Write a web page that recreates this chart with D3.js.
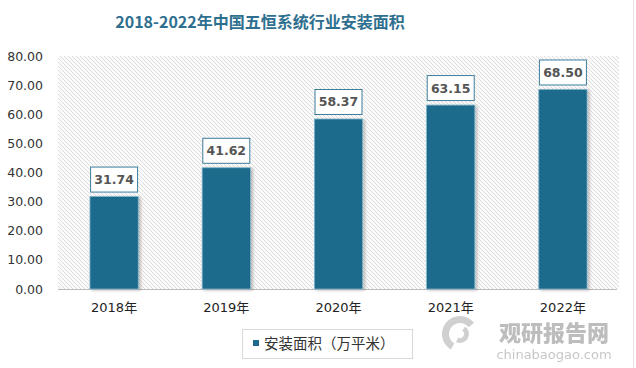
<!DOCTYPE html>
<html><head><meta charset="utf-8">
<script src="https://cdn.jsdelivr.net/npm/d3@7"></script>
<style>body{margin:0;background:#fff}svg{display:block}</style>
</head><body>
<script>
const title = "2018-2022年中国五恒系统行业安装面积";
const categories = ["2018年","2019年","2020年","2021年","2022年"];
const values = [31.74, 41.62, 58.37, 63.15, 68.50];
const yTicks = [0,10,20,30,40,50,60,70,80];
const seriesName = "安装面积（万平米）";

const W = 636, H = 368;
const m = {left:58, right:619, top:56, bottom:289};
const svg = d3.select("body").append("svg").attr("width",W).attr("height",H);
const defs = svg.append("defs");
const pat = defs.append("pattern").attr("id","hatch").attr("patternUnits","userSpaceOnUse")
  .attr("width",4).attr("height",4);
pat.append("rect").attr("width",4).attr("height",4).attr("fill","#fbfbfb");
pat.append("path").attr("d","M-1,-1 L5,5 M-1,3 L1,5 M3,-1 L5,1").attr("stroke","#dcdcdc").attr("stroke-width",1);
const f = defs.append("filter").attr("id","sh").attr("x","-20%").attr("y","-20%").attr("width","150%").attr("height","150%");
f.append("feDropShadow").attr("dx",2).attr("dy",1).attr("stdDeviation",1.5).attr("flood-color","#000").attr("flood-opacity",0.25);

const x = d3.scaleBand().domain(categories).range([m.left,m.right]).paddingInner(0.57).paddingOuter(0.285);
const y = d3.scaleLinear().domain([0,80]).range([m.bottom,m.top]);

// title
svg.append("text").attr("x",260).attr("y",28).attr("text-anchor","middle")
  .attr("font-family","'Noto Sans CJK SC',sans-serif").attr("font-weight",700).attr("font-size",16)
  .attr("fill","#2e6f8f").text(title);

// plot background
svg.append("rect").attr("x",m.left).attr("y",m.top).attr("width",m.right-m.left).attr("height",m.bottom-m.top).attr("fill","url(#hatch)");

// y axis
const ya = svg.append("g").attr("transform",`translate(${m.left},0)`)
  .call(d3.axisLeft(y).tickValues(yTicks).tickFormat(d3.format(".2f")).tickSize(0).tickPadding(15));
ya.select(".domain").remove();
ya.selectAll("text").attr("font-family","'DejaVu Sans',sans-serif").attr("font-size",12.5).attr("fill","#333");

// x axis
const xa = svg.append("g").attr("transform",`translate(0,${m.bottom})`)
  .call(d3.axisBottom(x).tickSize(0).tickPadding(14));
xa.select(".domain").attr("stroke","#bbb").attr("stroke-width",1.2).attr("d",`M${m.left},0.5H${m.right-2}`);
xa.selectAll("text").attr("font-family","'DejaVu Sans','Noto Sans CJK SC',sans-serif").attr("font-size",13).attr("fill","#222");

// bars
const g = svg.append("g");
g.selectAll("rect.bar").data(values).join("rect").attr("class","bar")
  .attr("x",(d,i)=>x(categories[i])).attr("width",x.bandwidth())
  .attr("y",d=>y(d)).attr("height",d=>y(0)-y(d))
  .attr("fill","#1d6a8c").attr("stroke","#7fb3c9").attr("stroke-width",0.8)
  .attr("filter","url(#sh)");

// labels
const lw = 47, lh = 25;
g.selectAll("rect.lb").data(values).join("rect").attr("class","lb")
  .attr("x",(d,i)=>x(categories[i])+x.bandwidth()/2-lw/2).attr("y",d=>y(d)-lh-4.5)
  .attr("width",lw).attr("height",lh).attr("fill","#fff").attr("stroke","#3c7d9a").attr("stroke-width",1);
g.selectAll("text.lt").data(values).join("text").attr("class","lt")
  .attr("x",(d,i)=>x(categories[i])+x.bandwidth()/2).attr("y",d=>y(d)-lh/2-4.5+4.5)
  .attr("text-anchor","middle").attr("font-family","'DejaVu Sans',sans-serif").attr("font-weight",700)
  .attr("font-size",12.5).attr("fill","#555").text(d=>d.toFixed(2));

// legend
svg.append("rect").attr("x",242.5).attr("y",329.5).attr("width",170).attr("height",29).attr("fill","#fff").attr("stroke","#d9d9d9");
svg.append("rect").attr("x",253).attr("y",340).attr("width",6).attr("height",6).attr("fill","#1d6a8c");
svg.append("text").attr("x",264).attr("y",348.5).attr("font-family","'Noto Sans CJK SC',sans-serif")
  .attr("font-size",14.5).attr("fill","#333").text(seriesName);

// watermark
const wm = svg.append("g").attr("opacity",0.55);
wm.append("path").attr("d",d3.arc()({innerRadius:11,outerRadius:18,startAngle:-2.6,endAngle:0.9})).attr("transform","translate(460,334)").attr("fill","#aaa");
wm.append("path").attr("d",d3.arc()({innerRadius:4,outerRadius:9,startAngle:0.6,endAngle:3.6})).attr("transform","translate(460,334)").attr("fill","#aaa");
wm.append("text").attr("x",554).attr("y",341).attr("text-anchor","middle").attr("font-family","'Noto Sans CJK SC',sans-serif")
  .attr("font-weight",900).attr("font-size",22).attr("fill","#888").text("观研报告网");
wm.append("text").attr("x",554).attr("y",358.5).attr("text-anchor","middle").attr("font-family","'DejaVu Sans',sans-serif")
  .attr("font-size",13).attr("fill","#999").text("chinabaogao.com");

// right border line
svg.append("line").attr("x1",633.5).attr("x2",633.5).attr("y1",0).attr("y2",H).attr("stroke","#e3e3e3");
</script>
</body></html>
